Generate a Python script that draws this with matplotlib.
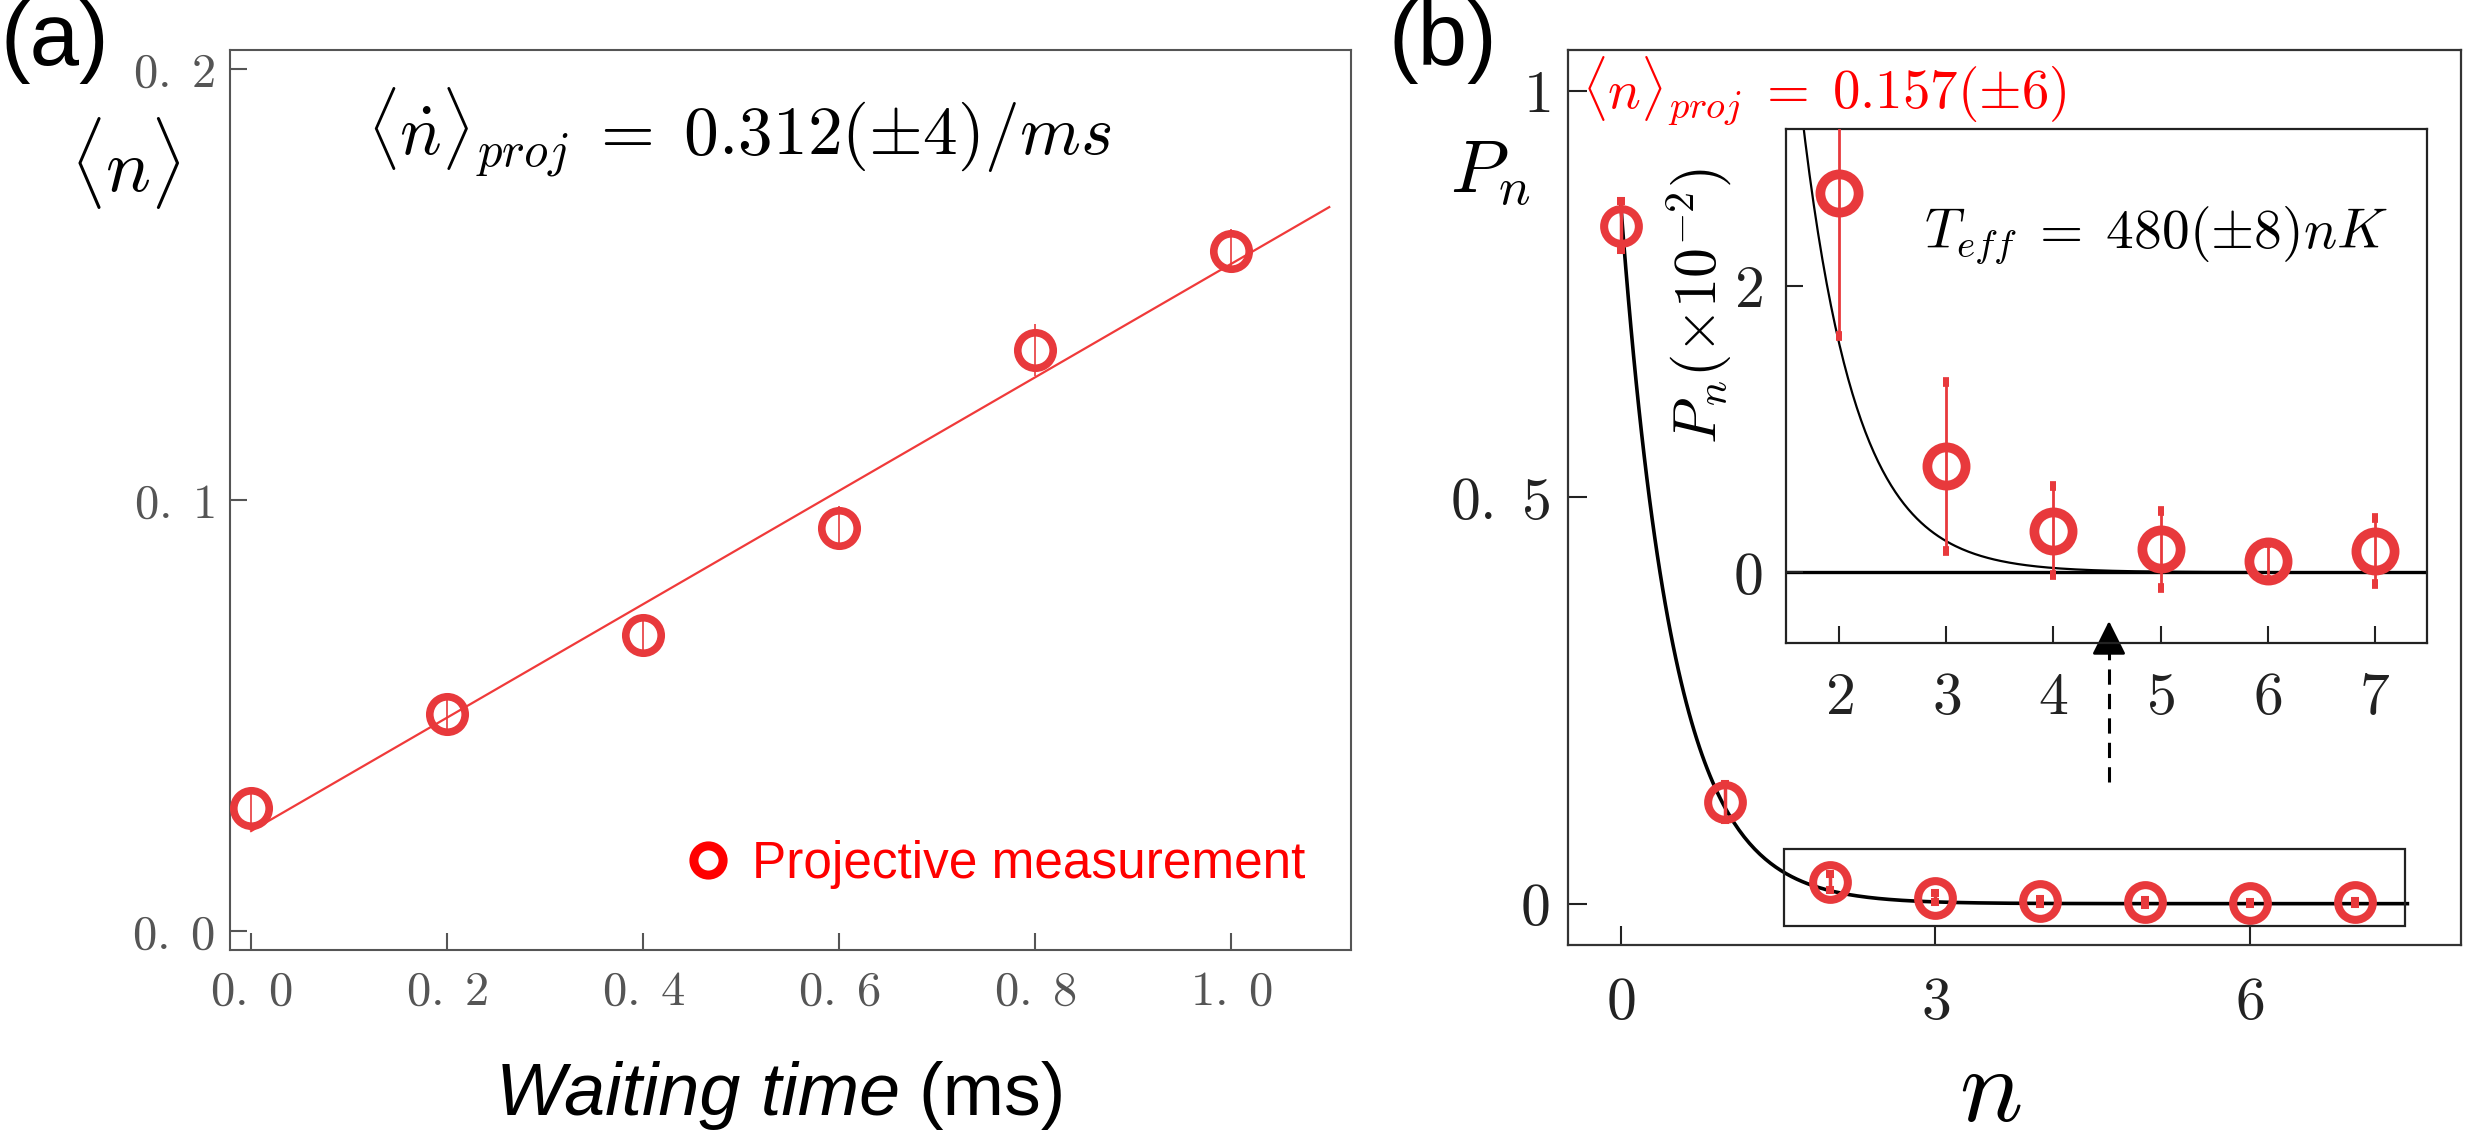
import numpy as np
import matplotlib
matplotlib.use('Agg')
import matplotlib.pyplot as plt
from matplotlib.lines import Line2D
from matplotlib.patches import Rectangle

plt.rcParams['mathtext.fontset'] = 'cm'
plt.rcParams['font.family'] = ['Liberation Sans', 'DejaVu Sans']

#############
# Data, panel (a)
wait_time = [0.0, 0.2, 0.4, 0.6, 0.8, 1.0]
n_mean = [0.0285, 0.0503, 0.0686, 0.0935, 0.1348, 0.1578]
n_mean_err = [0.004, 0.004, 0.004, 0.005, 0.006, 0.005]
fit_slope = 0.1316
fit_icept = 0.0232
fit_tmax = 1.1
a_xticks = [0.0, 0.2, 0.4, 0.6, 0.8, 1.0]
a_xlabels = [r'$0.\;0$', r'$0.\;2$', r'$0.\;4$', r'$0.\;6$', r'$0.\;8$', r'$1.\;0$']
a_yticks = [0.0, 0.1, 0.2]
a_ylabels = [r'$0.\;0$', r'$0.\;1$', r'$0.\;2$']

# Data, panel (b)
n_levels = [0, 1, 2, 3, 4, 5, 6, 7]
p_n = [0.834, 0.1246, 0.0265, 0.0074, 0.0029, 0.0016, 0.00075, 0.0015]
p_n_err = [0.03, 0.022, 0.010, 0.0059, 0.0031, 0.0027, 0.0013, 0.0023]
nbar_fit = 0.157
b_xticks = [0, 3, 6]
b_xlabels = [r'$0$', r'$3$', r'$6$']
b_yticks = [0, 0.5, 1]
b_ylabels = [r'$0$', r'$0.\;5$', r'$1$']
ins_xticks = [2, 3, 4, 5, 6, 7]
ins_xlabels = [r'$2$', r'$3$', r'$4$', r'$5$', r'$6$', r'$7$']
ins_yticks = [0, 2]
ins_ylabels = [r'$0$', r'$2$']
ins_scale = 1e2

red = '#E8393C'

fig = plt.figure(figsize=(24.77, 11.45), dpi=100)

# ---------- panel (a)
ax_a = fig.add_axes([0.0929, 0.1703, 0.4526, 0.786])
ax_a.errorbar(wait_time, n_mean, yerr=n_mean_err, fmt='o', ms=25.5, mfc='none',
              mec=red, mew=5.5, ecolor=red, elinewidth=1.2, capsize=0, zorder=3)
t_fit = np.linspace(0, fit_tmax, 50)
ax_a.plot(t_fit, fit_icept + fit_slope * t_fit, color='#F03A3A', lw=1.6, zorder=2)
ax_a.set_xlim(-0.0214, 1.1224)
ax_a.set_ylim(-0.0044, 0.2044)
ax_a.set_xticks(a_xticks)
ax_a.set_xticklabels(a_xlabels)
ax_a.set_yticks(a_yticks)
ax_a.set_yticklabels(a_ylabels)
ax_a.tick_params(direction='in', length=12, width=1.5, colors='#555555',
                 labelsize=35)
ax_a.tick_params(axis='x', pad=14)
ax_a.tick_params(axis='y', pad=11)
for sp in ax_a.spines.values():
    sp.set_color('#555555')
    sp.set_linewidth(1.5)

ax_a.text(0.122, 0.908, r'$\langle\dot{n}\rangle_{proj}\;=\;0.312(\pm4)/ms$',
          transform=ax_a.transAxes, fontsize=50, va='center', ha='left')

# legend with a plain ring, no error bar
leg_handle = Line2D([], [], ls='none', marker='o', ms=21, mfc='none',
                    mec='#FF0000', mew=6.5)
ax_a.legend([leg_handle], ['Projective measurement'], loc='lower right',
            bbox_to_anchor=(1.0, 0.016), frameon=False, fontsize=37,
            labelcolor='#FF0000', handlelength=0.7, handletextpad=0.5)

fig.text(0.0505, 0.8576, r'$\langle n\rangle$', fontsize=54, ha='center', va='center')
fig.text(0.3633, 0.026, 'Waiting time', fontsize=53, style='italic',
         ha='right', va='baseline')
fig.text(0.3706, 0.026, '(ms)', fontsize=53, ha='left', va='baseline')
fig.text(0.0, 1.0, '(a)', fontsize=64, ha='left', va='top')

# ---------- panel (b)
ax_b = fig.add_axes([0.6330, 0.1747, 0.3605, 0.7817])
ax_b.errorbar(n_levels, p_n, yerr=p_n_err, fmt='o', ms=25, mfc='none',
              mec=red, mew=5.8, ecolor=red, elinewidth=2.5, capsize=3,
              capthick=2.5, zorder=3)
# thermal distribution for the fitted mean occupation
n_fine = np.linspace(0, 7.5, 300)
q = nbar_fit / (1 + nbar_fit)
ax_b.plot(n_fine, (1 - q) * q ** n_fine, color='black', lw=2.6, zorder=2)
ax_b.add_patch(Rectangle((1.56, -0.027), 5.92, 0.094, fill=False,
                         lw=1.6, ec='#222222', zorder=4))
ax_b.set_xlim(-0.501, 8.01)
ax_b.set_ylim(-0.0508, 1.050)
ax_b.set_xticks(b_xticks)
ax_b.set_xticklabels(b_xlabels)
ax_b.set_yticks(b_yticks)
ax_b.set_yticklabels(b_ylabels)
ax_b.tick_params(direction='in', length=14, width=1.5, colors='#222222',
                 labelsize=43)
ax_b.tick_params(axis='x', pad=22)
ax_b.tick_params(axis='y', pad=13)
for sp in ax_b.spines.values():
    sp.set_color('#333333')
    sp.set_linewidth(1.6)

ax_b.text(0.016, 0.955, r'$\langle n\rangle_{proj}\;=\;0.157(\pm6)$', color='#FF0000',
          transform=ax_b.transAxes, fontsize=39.5, va='center', ha='left')

# dashed arrow pointing at the zoomed region
arrow_x = 4.656
ax_b.plot([arrow_x, arrow_x], [0.150, 0.32], color='black', lw=2.2,
          dashes=(5, 3), zorder=5)
ax_b.annotate('', xy=(arrow_x, 0.351), xytext=(arrow_x, 0.31),
              arrowprops=dict(arrowstyle='-|>,head_length=0.6,head_width=0.3',
                              color='black', lw=2, mutation_scale=35),
              zorder=6, annotation_clip=False)

fig.text(0.6015, 0.848, r'$P_n$', fontsize=54, ha='center', va='center')
fig.text(0.8034, 0.021, r'$n$', fontsize=76, ha='center', va='baseline')
fig.text(0.5604, 1.0, '(b)', fontsize=64, ha='left', va='top')

# ---------- inset
ins = fig.add_axes([0.7212, 0.4384, 0.2588, 0.4486])
ins.patch.set_alpha(0)
ins_vals = np.array(p_n[2:]) * ins_scale
ins_errs = np.array(p_n_err[2:]) * ins_scale
ins.errorbar(n_levels[2:], ins_vals, yerr=ins_errs, fmt='o', ms=27.5,
             mfc='none', mec=red, mew=7, ecolor=red, elinewidth=2,
             capsize=2, capthick=2, zorder=3)
n_ins = np.linspace(1.5, 7.5, 300)
ins.plot(n_ins, (1 - q) * q ** n_ins * ins_scale, color='black', lw=1.6, zorder=2)
ins.axhline(0, color='black', lw=2.4, zorder=1)
ins.set_xlim(1.505, 7.494)
ins.set_ylim(-0.495, 3.094)
ins.set_xticks(ins_xticks)
ins.set_xticklabels(ins_xlabels)
ins.set_yticks(ins_yticks)
ins.set_yticklabels(ins_ylabels)
ins.tick_params(direction='in', length=12, width=1.5, colors='#222222',
                labelsize=43)
ins.tick_params(axis='x', pad=20)
ins.tick_params(axis='y', pad=17)
for sp in ins.spines.values():
    sp.set_color('#222222')
    sp.set_linewidth(1.6)
ins.text(0.215, 0.793, r'$T_{eff}\;=\;480(\pm8)nK$', transform=ins.transAxes,
         fontsize=40, va='center', ha='left')
fig.text(0.6861, 0.7328, r'$P_n(\times10^{-2})$', rotation=90, fontsize=43,
         ha='center', va='center')

fig.savefig('out.png', dpi=100)
